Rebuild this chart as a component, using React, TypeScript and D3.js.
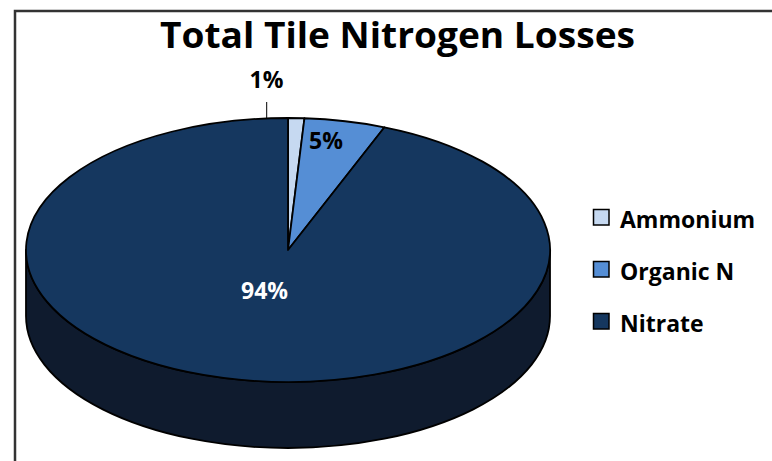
import React from "react";
import * as d3 from "d3";

// Share of total tile nitrogen losses by form (percent)
const categories = ["Ammonium", "Organic N", "Nitrate"];
const values = [1, 5, 94];
const valueLabels = ["1%", "5%", "94%"];
const topColors = ["#C6D9F1", "#558ED5", "#15375F"];
const sideColors = ["#8FA3BC", "#3A6398", "#0F1B2E"];

const W = 772;
const H = 461;
const FONT = "'Open Sans', 'Liberation Sans', sans-serif";

export default function App() {
  // Projected pie geometry: tilted ellipse with a thickness
  const cx = 288;
  const cy = 250;
  const rx = 262;
  const ry = 132;
  const depth = 66;

  const pie = d3
    .pie<number>()
    .sort(null)
    .value((d) => d)
    .startAngle(0)
    .endAngle(2 * Math.PI);
  const arcs = pie(values);

  // Point on the top ellipse for an angle measured clockwise from 12 o'clock
  const pt = (a: number, dy = 0): [number, number] => [
    cx + rx * Math.sin(a),
    cy - ry * Math.cos(a) + dy,
  ];

  const slicePath = (a0: number, a1: number) => {
    const [x0, y0] = pt(a0);
    const [x1, y1] = pt(a1);
    const large = a1 - a0 > Math.PI ? 1 : 0;
    return `M${cx},${cy}L${x0},${y0}A${rx},${ry} 0 ${large} 1 ${x1},${y1}Z`;
  };

  // Visible outer wall spans the front half (90°..270°)
  const sidePath = (a0: number, a1: number) => {
    const s = Math.max(a0, Math.PI / 2);
    const e = Math.min(a1, (3 * Math.PI) / 2);
    if (e <= s) return null;
    const [x0, y0] = pt(s);
    const [x1, y1] = pt(e);
    return `M${x0},${y0}A${rx},${ry} 0 0 1 ${x1},${y1}L${x1},${y1 + depth}A${rx},${ry} 0 0 0 ${x0},${y0 + depth}Z`;
  };

  // Label anchors (centre x, baseline y) for each slice
  const labelPos: [number, number][] = [
    [266.5, 87.5],
    [326, 148.5],
    [264.5, 299],
  ];
  const labelFill = ["#000", "#000", "#fff"];

  const legendX = 593;
  const legendY0 = 209;
  const legendStep = 52;

  return (
    <svg
      width={W}
      height={H}
      style={{ position: "absolute", left: 0, top: 0, background: "#fff" }}
    >
      {/* chart frame */}
      <rect
        x={15}
        y={11}
        width={W + 20}
        height={H + 20}
        fill="none"
        stroke="#333"
        strokeWidth={2.5}
      />

      <text
        x={397.5}
        y={47.5}
        textAnchor="middle"
        fontFamily={FONT}
        fontWeight={700}
        fontSize={35}
        textLength={475}
        lengthAdjust="spacingAndGlyphs"
        fill="#000"
      >
        Total Tile Nitrogen Losses
      </text>

      {/* walls */}
      {arcs.map((a, i) => {
        const d = sidePath(a.startAngle, a.endAngle);
        return d ? (
          <path
            key={`side-${i}`}
            d={d}
            fill={sideColors[i]}
            stroke="#000"
            strokeWidth={1.8}
            strokeLinejoin="round"
          />
        ) : null;
      })}

      {/* top faces */}
      {arcs.map((a, i) => (
        <path
          key={`top-${i}`}
          d={slicePath(a.startAngle, a.endAngle)}
          fill={topColors[i]}
          stroke="#000"
          strokeWidth={1.8}
          strokeLinejoin="round"
        />
      ))}

      {/* leader line for the smallest slice */}
      <line x1={266.7} y1={102} x2={266.7} y2={118} stroke="#000" strokeWidth={1} />

      {arcs.map((a, i) => (
        <text
          key={`lbl-${i}`}
          x={labelPos[i][0]}
          y={labelPos[i][1]}
          textAnchor="middle"
          fontFamily={FONT}
          fontWeight={700}
          fontSize={23}
          fill={labelFill[i]}
        >
          {valueLabels[i]}
        </text>
      ))}

      {/* legend */}
      {categories.map((c, i) => (
        <g key={c} transform={`translate(${legendX},${legendY0 + i * legendStep})`}>
          <rect
            x={0.5}
            y={0.5}
            width={15.5}
            height={15.5}
            fill={topColors[i]}
            stroke="#000"
            strokeWidth={1.5}
          />
          <text
            x={27}
            y={18.5}
            fontFamily={FONT}
            fontWeight={700}
            fontSize={23}
            fill="#000"
          >
            {c}
          </text>
        </g>
      ))}
    </svg>
  );
}
